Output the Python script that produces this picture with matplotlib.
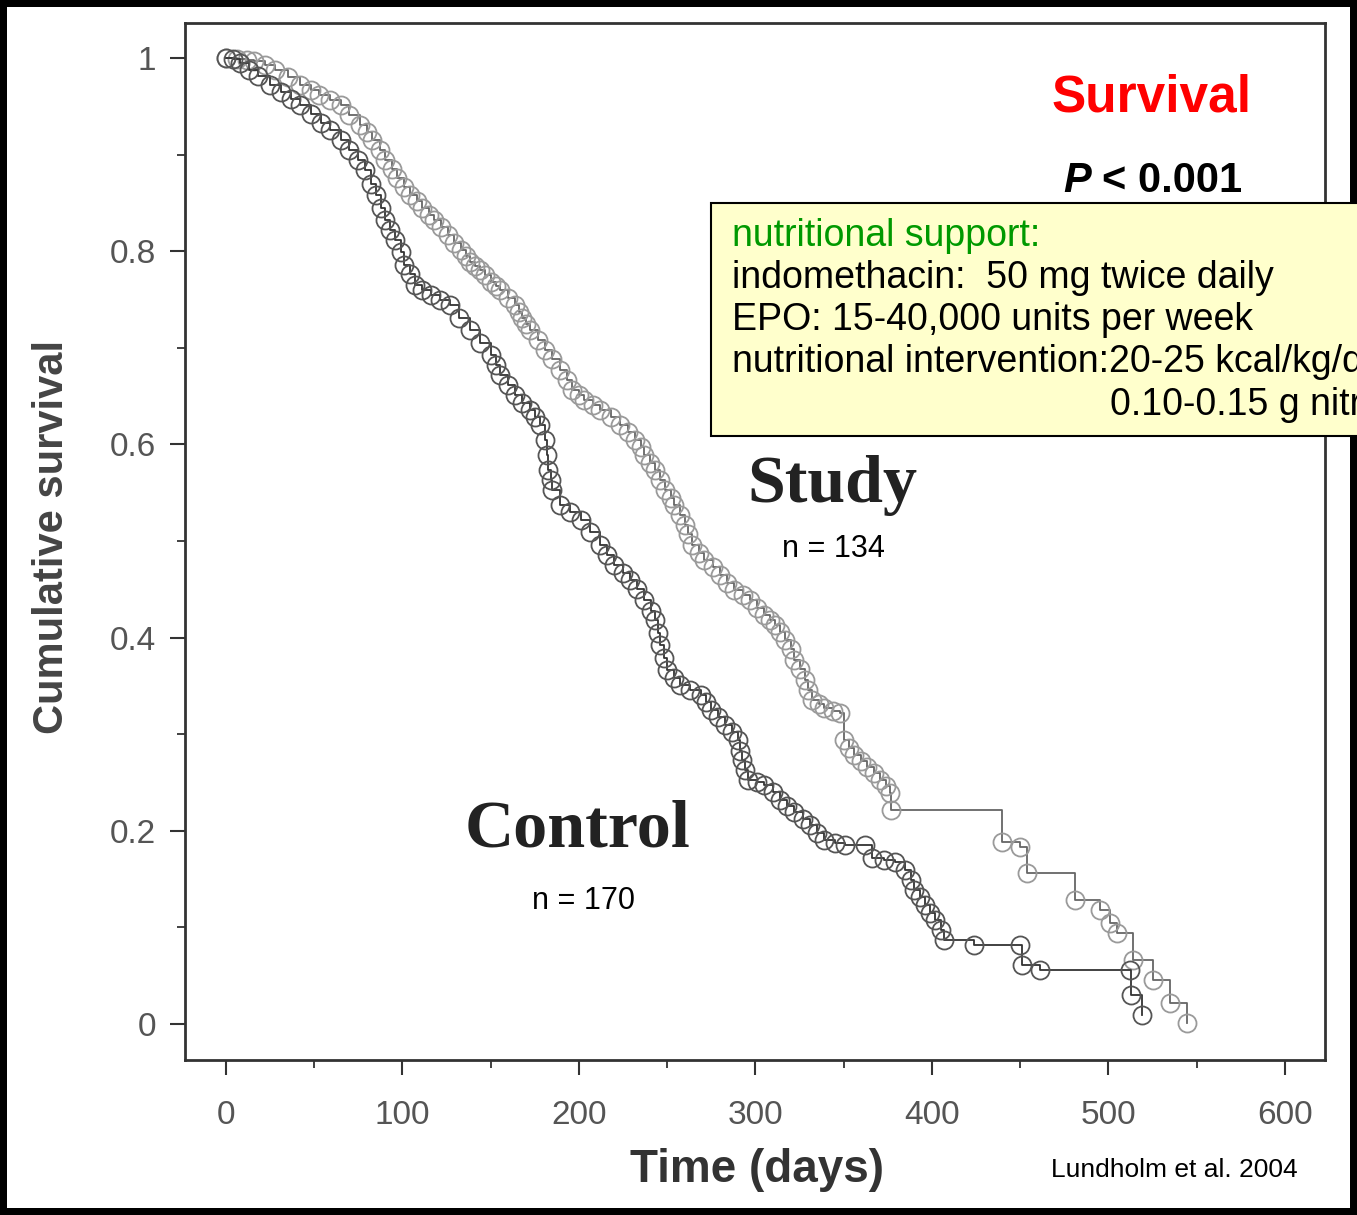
import matplotlib.pyplot as plt
from matplotlib.patches import Rectangle

# Kaplan-Meier curves (days, cumulative survival)
control_t = [0, 4, 8, 13, 18, 25, 31, 37, 42, 48, 54, 59, 65, 70, 75, 79, 82, 85, 88,
             90, 93, 96, 99, 101, 104, 107, 111, 116, 121, 127, 132, 138, 144, 150,
             153, 155, 160, 164, 168, 172, 175, 178, 181, 182, 182.5, 184, 185, 189,
             195, 201, 206, 212, 216, 220, 225, 229, 233, 237, 241, 243, 245, 246,
             248, 250, 254, 257, 263, 269, 272, 275, 279, 283, 287, 290, 291, 292.4,
             294, 296, 301, 305, 310, 314, 318, 322, 327, 331, 335, 339, 345, 351,
             362, 366, 373, 379, 385, 388, 390, 393, 396, 399, 402, 405, 407, 424,
             450, 451, 461, 512, 513, 519]
control_s = [1.0, 0.999, 0.995, 0.988, 0.981, 0.972, 0.965, 0.958, 0.951, 0.942, 0.933,
             0.925, 0.915, 0.905, 0.894, 0.884, 0.870, 0.858, 0.845, 0.832, 0.822,
             0.812, 0.799, 0.786, 0.776, 0.765, 0.760, 0.755, 0.750, 0.744, 0.731,
             0.718, 0.705, 0.693, 0.682, 0.672, 0.661, 0.651, 0.643, 0.636, 0.628,
             0.620, 0.605, 0.589, 0.573, 0.563, 0.553, 0.537, 0.530, 0.522, 0.509,
             0.496, 0.486, 0.475, 0.467, 0.460, 0.450, 0.439, 0.428, 0.418, 0.405,
             0.392, 0.379, 0.366, 0.358, 0.351, 0.346, 0.341, 0.333, 0.325, 0.318,
             0.310, 0.302, 0.294, 0.283, 0.273, 0.263, 0.253, 0.250, 0.247, 0.240,
             0.232, 0.226, 0.219, 0.212, 0.206, 0.198, 0.190, 0.187, 0.185, 0.185,
             0.172, 0.170, 0.168, 0.159, 0.149, 0.139, 0.131, 0.123, 0.115, 0.108,
             0.097, 0.087, 0.082, 0.082, 0.061, 0.056, 0.056, 0.030, 0.009]

study_t = [0, 6, 12, 16, 22, 28, 35, 42, 48, 53, 59, 65, 70, 76, 80, 83, 87, 90, 94,
           97, 101, 104, 108, 111, 115, 118, 122, 126, 129, 133, 136, 138, 141, 144,
           147, 150, 153, 155, 160, 164, 166, 168, 170, 172, 177, 181, 185, 189, 193,
           196, 200, 203, 208, 212, 218, 223, 228, 232, 235, 237, 240, 243, 246, 249,
           252, 254, 257, 260, 262, 264, 268, 271, 276, 280, 284, 288, 293, 297, 301,
           305, 308, 311, 314, 317, 320, 322, 325, 328, 330, 332, 336, 339, 344, 348,
           350, 353, 356, 360, 363, 367, 370.5, 374, 376.2, 377, 439.7, 449.9, 453.8,
           481, 495.2, 500.8, 504.8, 513.9, 525.2, 534.8, 544.5]
study_s = [1.0, 0.999, 0.998, 0.997, 0.993, 0.988, 0.980, 0.972, 0.967, 0.962, 0.957,
           0.951, 0.941, 0.931, 0.923, 0.915, 0.905, 0.894, 0.885, 0.876, 0.867,
           0.858, 0.852, 0.845, 0.838, 0.832, 0.825, 0.817, 0.809, 0.801, 0.795,
           0.789, 0.785, 0.781, 0.775, 0.768, 0.764, 0.760, 0.752, 0.744, 0.737,
           0.731, 0.725, 0.718, 0.708, 0.698, 0.688, 0.677, 0.667, 0.656, 0.651,
           0.646, 0.641, 0.636, 0.628, 0.620, 0.613, 0.605, 0.597, 0.589, 0.581,
           0.573, 0.563, 0.553, 0.545, 0.537, 0.527, 0.517, 0.507, 0.496, 0.488,
           0.480, 0.473, 0.465, 0.457, 0.449, 0.444, 0.439, 0.431, 0.423, 0.418,
           0.413, 0.406, 0.398, 0.388, 0.377, 0.367, 0.356, 0.346, 0.335, 0.331,
           0.327, 0.324, 0.322, 0.294, 0.286, 0.278, 0.272, 0.266, 0.260, 0.253,
           0.246, 0.239, 0.222, 0.188, 0.183, 0.156, 0.128, 0.118, 0.105, 0.094,
           0.066, 0.046, 0.022, 0.001]

x_ticks = [0, 100, 200, 300, 400, 500, 600]
y_ticks = [0, 0.2, 0.4, 0.6, 0.8, 1.0]
y_ticklabels = ["0", "0.2", "0.4", "0.6", "0.8", "1"]

box_lines = ["indomethacin:  50 mg twice daily",
             "EPO: 15-40,000 units per week",
             "nutritional intervention:20-25 kcal/kg/d"]

W, H = 1357, 1215


def fx(px):
    return px / W


def fy(py):
    return 1 - py / H


fig = plt.figure(figsize=(W / 100, H / 100), dpi=100)
fig.patch.set_facecolor('white')
fig.patch.set_edgecolor('black')
fig.patch.set_linewidth(10)

ax = fig.add_axes([fx(185), fy(1060), fx(1325) - fx(185), fy(22.7) - fy(1060)])

# Curves
ax.plot(study_t, study_s, drawstyle='steps-post', color='#666666', lw=1.3,
        marker='o', ms=13, mfc='none', mec='#9a9a9a', mew=1.3)
ax.plot(control_t, control_s, drawstyle='steps-post', color='#333333', lw=1.3,
        marker='o', ms=13, mfc='none', mec='#555555', mew=1.3)

ax.set_xlim(-23.2, 622.7)
ax.set_ylim(-0.0373, 1.0366)
ax.set_xticks(x_ticks)
ax.set_xticks([50, 150, 250, 350, 450, 550], minor=True)
ax.set_yticks(y_ticks)
ax.set_yticklabels(y_ticklabels)
ax.set_yticks([0.1, 0.3, 0.5, 0.7, 0.9], minor=True)
ax.tick_params(axis='both', which='major', direction='out', length=11, width=1.5,
               color='#333333', labelsize=24, labelcolor='#555555')
ax.tick_params(axis='both', which='minor', direction='out', length=5.5, width=1.3,
               color='#333333')
ax.tick_params(axis='x', which='major', pad=18)
ax.tick_params(axis='y', which='major', pad=10)
for lab in ax.get_xticklabels() + ax.get_yticklabels():
    lab.set_family('Liberation Sans')
for sp in ax.spines.values():
    sp.set_color('#333333')
    sp.set_linewidth(2)

# Labels inside the plot
fig.text(fx(832), fy(485), "Study", family='Liberation Serif', weight='bold',
         fontsize=49, color='#222222', ha='center', va='center')
fig.text(fx(578), fy(830), "Control", family='Liberation Serif', weight='bold',
         fontsize=49, color='#222222', ha='center', va='center')
fig.text(fx(833), fy(549), "n = 134", family='Liberation Sans', fontsize=22,
         ha='center', va='center')
fig.text(fx(584), fy(901), "n = 170", family='Liberation Sans', fontsize=22,
         ha='center', va='center')

# Axis titles
fig.text(fx(757), fy(1170), "Time (days)", family='Liberation Sans', weight='bold',
         fontsize=33, color='#333333', ha='center', va='center')
fig.text(fx(52), fy(537), "Cumulative survival", family='Liberation Sans',
         weight='bold', fontsize=30, color='#444444', ha='center', va='center',
         rotation=90)
fig.text(fx(1298), fy(1170), "Lundholm et al. 2004", family='Liberation Sans',
         fontsize=19, ha='right', va='center')

# Headline
fig.text(fx(1152), fy(98), "Survival", family='Liberation Sans', weight='bold',
         fontsize=37, color='#ff0000', ha='center', va='center')
fig.text(fx(1063), fy(181), "P", family='Liberation Sans', weight='bold',
         style='italic', fontsize=30, ha='left', va='center')
fig.text(fx(1242), fy(181), "< 0.001", family='Liberation Sans', weight='bold',
         fontsize=30, ha='right', va='center')

# Yellow note box (runs off the right edge, as in the slide)
box = Rectangle((fx(711), fy(436)), fx(1380) - fx(711), fy(203) - fy(436),
                transform=fig.transFigure, facecolor='#ffffcc', edgecolor='black',
                lw=1.5, zorder=5)
fig.add_artist(box)
fig.text(fx(732), fy(236), "nutritional support:", family='Liberation Sans',
         fontsize=27, color='#009900', ha='left', va='center', zorder=6)
for i, line in enumerate(box_lines):
    fig.text(fx(732), fy(278 + 42 * i), line, family='Liberation Sans', fontsize=27,
             ha='left', va='center', zorder=6)
fig.text(fx(1110), fy(405), "0.10-0.15 g nitrogen/kg/d", family='Liberation Sans',
         fontsize=27, ha='left', va='center', zorder=6)

fig.savefig('out.png', dpi=100)
